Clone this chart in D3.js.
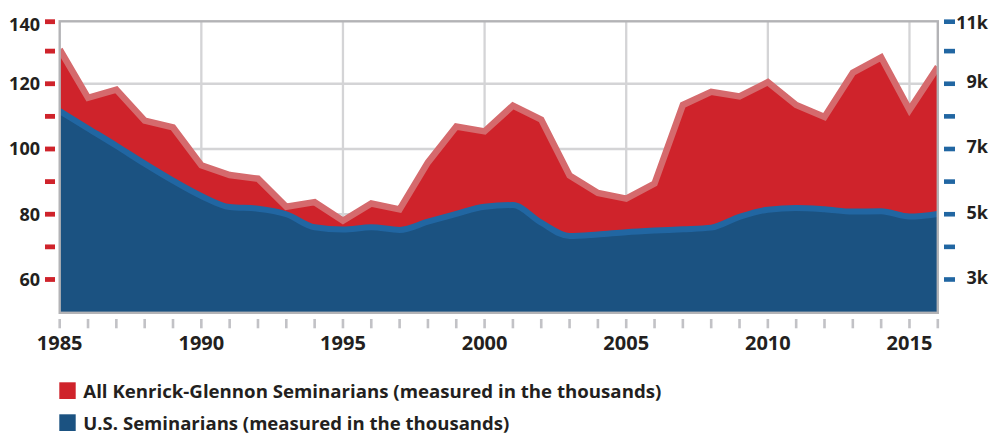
<!DOCTYPE html>
<html>
<head>
<meta charset="utf-8">
<script src="https://cdn.jsdelivr.net/npm/d3@7/dist/d3.min.js"></script>
<style>
  body { margin: 0; background: #fff; }
  svg { display: block; font-family: "Open Sans", "DejaVu Sans", sans-serif; }
</style>
</head>
<body>
<svg id="chart" width="1002" height="433"></svg>
<script>
const years = [1985, 1986, 1987, 1988, 1989, 1990, 1991, 1992, 1993, 1994, 1995, 1996, 1997, 1998, 1999, 2000,
  2001, 2002, 2003, 2004, 2005, 2006, 2007, 2008, 2009, 2010, 2011, 2012, 2013, 2014, 2015, 2016];

// left axis
const kenrickGlennon = [130.5, 115.7, 118.2, 108.7, 106.6, 95.0, 92.0, 90.9, 82.3, 83.7, 78.0, 83.3, 81.5, 95.9, 106.9, 105.4,
  113.3, 109.0, 91.9, 86.5, 84.8, 89.4, 113.5, 117.5, 116.1, 120.5, 113.5, 109.8, 123.4, 128.1, 112.0, 125.2];

// right axis
const usSeminarians = [8160, 7630, 7100, 6550, 6030, 5560, 5220, 5170, 5000, 4600, 4530, 4600, 4520, 4770, 5010, 5230,
  5280, 4740, 4330, 4380, 4450, 4500, 4540, 4590, 4920, 5140, 5190, 5150, 5080, 5090, 4930, 5010];

const leftTicks = [140, 130, 120, 110, 100, 90, 80, 70, 60];
const leftLabels = [140, 120, 100, 80, 60];
const rightTicks = [11000, 10000, 9000, 8000, 7000, 6000, 5000, 4000, 3000];
const rightLabels = [11000, 9000, 7000, 5000, 3000];
const xLabels = [1985, 1990, 1995, 2000, 2005, 2010, 2015];
const gridYears = [1990, 1995, 2000, 2005, 2010, 2015];
const gridValues = [120, 100, 80, 60];

const legendLabels = [
  'All Kenrick-Glennon Seminarians (measured in the thousands)',
  'U.S. Seminarians (measured in the thousands)'
];

const colors = {
  red: '#cf232b', redLine: '#d56a6d',
  blue: '#1b5281', blueLine: '#2166a2',
  grid: '#d4d4d6', frame: '#b3b3b6', tick: '#c2c2c6', text: '#231f20'
};

const box = { left: 59.7, right: 937.8, top: 21.3, bottom: 312.8 };

const svg = d3.select('#chart');

const x = d3.scaleLinear().domain([1985, 2016]).range([box.left, box.right]);
const yLeft = d3.scaleLinear().domain([50, 140]).range([312.1, 18.5]);
const yRight = d3.scaleLinear().domain([2000, 11000]).range([312.1, 18.5]);

const rows = years.map((year, i) => ({ year, kg: kenrickGlennon[i], us: usSeminarians[i] }));

svg.append('defs').append('clipPath').attr('id', 'plot-clip')
  .append('rect')
  .attr('x', box.left).attr('y', box.top)
  .attr('width', box.right - box.left).attr('height', box.bottom - box.top);

// grid
const grid = svg.append('g').attr('stroke', colors.grid).attr('stroke-width', 2.3);
grid.selectAll('line.v').data(gridYears).join('line')
  .attr('class', 'v')
  .attr('x1', (d) => x(d)).attr('x2', (d) => x(d))
  .attr('y1', box.top).attr('y2', box.bottom);
grid.selectAll('line.h').data(gridValues).join('line')
  .attr('class', 'h')
  .attr('x1', box.left).attr('x2', box.right)
  .attr('y1', (d) => yLeft(d)).attr('y2', (d) => yLeft(d));

const plot = svg.append('g').attr('clip-path', 'url(#plot-clip)');

const redArea = d3.area()
  .x((d) => x(d.year))
  .y0(box.bottom)
  .y1((d) => yLeft(d.kg));
const redLine = d3.line()
  .x((d) => x(d.year))
  .y((d) => yLeft(d.kg));

const blueArea = d3.area()
  .curve(d3.curveMonotoneX)
  .x((d) => x(d.year))
  .y0(box.bottom)
  .y1((d) => yRight(d.us));
const blueLine = d3.line()
  .curve(d3.curveMonotoneX)
  .x((d) => x(d.year))
  .y((d) => yRight(d.us));

plot.append('path').attr('d', redArea(rows)).attr('fill', colors.red);
plot.append('path').attr('d', redLine(rows))
  .attr('fill', 'none').attr('stroke', colors.redLine)
  .attr('stroke-width', 6.5).attr('stroke-linejoin', 'miter');

plot.append('path').attr('d', blueArea(rows)).attr('fill', colors.blue);
plot.append('path').attr('d', blueLine(rows))
  .attr('fill', 'none').attr('stroke', colors.blueLine)
  .attr('stroke-width', 6);

// frame
svg.append('rect')
  .attr('x', box.left).attr('y', box.top)
  .attr('width', box.right - box.left).attr('height', box.bottom - box.top)
  .attr('fill', 'none').attr('stroke', colors.frame).attr('stroke-width', 2.4);

// clamp positions at the top of the frame
const tickY = (scale, v) => Math.max(scale(v), box.top + 0.4);
const labelY = (scale, v) => Math.max(scale(v), box.top + 3);

// left axis
svg.append('g').selectAll('rect').data(leftTicks).join('rect')
  .attr('x', 45).attr('width', 10).attr('height', 4.8)
  .attr('y', (d) => tickY(yLeft, d) - 2.4)
  .attr('fill', colors.red);
svg.append('g').selectAll('text').data(leftLabels).join('text')
  .attr('x', 40).attr('y', (d) => labelY(yLeft, d))
  .attr('dy', '0.36em')
  .attr('text-anchor', 'end')
  .attr('font-size', 18).attr('font-weight', 700).attr('fill', colors.text)
  .text((d) => d);

// right axis
svg.append('g').selectAll('rect').data(rightTicks).join('rect')
  .attr('x', 944).attr('width', 11).attr('height', 4.6)
  .attr('y', (d) => tickY(yRight, d) - 2.3)
  .attr('fill', colors.blueLine);
svg.append('g').selectAll('text').data(rightLabels).join('text')
  .attr('x', 988).attr('y', (d) => labelY(yRight, d) - 2)
  .attr('dy', '0.36em')
  .attr('text-anchor', 'end')
  .attr('font-size', 18).attr('font-weight', 700).attr('fill', colors.text)
  .text((d) => `${d / 1000}k`);

// x axis
svg.append('g').selectAll('rect').data(years).join('rect')
  .attr('x', (d) => x(d) - 1.3).attr('width', 2.6)
  .attr('y', 319).attr('height', 9.3)
  .attr('fill', colors.tick);
svg.append('g').selectAll('text').data(xLabels).join('text')
  .attr('x', (d) => x(d)).attr('y', 350)
  .attr('text-anchor', 'middle')
  .attr('font-size', 20).attr('font-weight', 700).attr('fill', colors.text)
  .text((d) => d);

// legend
const legendWidths = [578, 426];
const legend = svg.append('g').selectAll('g').data(legendLabels).join('g')
  .attr('transform', (d, i) => `translate(59.3,${382.3 + i * 32})`);
legend.append('rect')
  .attr('width', 16.4).attr('height', 16.7)
  .attr('fill', (d, i) => i === 0 ? colors.red : colors.blue);
legend.append('text')
  .attr('x', 24).attr('y', 15.6)
  .attr('font-size', 18.5).attr('font-weight', 700).attr('fill', colors.text)
  .attr('textLength', (d, i) => legendWidths[i])
  .attr('lengthAdjust', 'spacingAndGlyphs')
  .text((d) => d);
</script>
</body>
</html>
